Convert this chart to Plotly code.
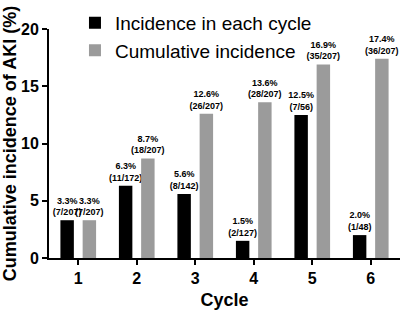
import plotly.graph_objects as go

cycles = ["1", "2", "3", "4", "5", "6"]
incidence = [3.3, 6.3, 5.6, 1.5, 12.5, 2.0]
incidence_counts = ["(7/207)", "(11/172)", "(8/142)", "(2/127)", "(7/56)", "(1/48)"]
cumulative = [3.3, 8.7, 12.6, 13.6, 16.9, 17.4]
cumulative_counts = ["(7/207)", "(18/207)", "(26/207)", "(28/207)", "(35/207)", "(36/207)"]
y_ticks = [0, 5, 10, 15, 20]

FONT = "Arial, Liberation Sans, sans-serif"

def labels(vals, counts):
    return [f"<b>{v:.1f}%<br>{c}</b>" for v, c in zip(vals, counts)]

x_num = [int(c) for c in cycles]

fig = go.Figure()
fig.add_trace(go.Bar(
    x=x_num, y=incidence, name="Incidence in each cycle",
    marker=dict(color="#000000", line=dict(width=0)),
    width=0.23, offset=-0.305,
    text=labels(incidence, incidence_counts), textposition="outside",
    textfont=dict(size=9, color="#000000", family=FONT),
    constraintext="none", cliponaxis=False,
))
fig.add_trace(go.Bar(
    x=x_num, y=cumulative, name="Cumulative incidence",
    marker=dict(color="#9b9b9b", line=dict(width=0)),
    width=0.23, offset=0.075,
    text=labels(cumulative, cumulative_counts), textposition="outside",
    textfont=dict(size=9, color="#000000", family=FONT),
    constraintext="none", cliponaxis=False,
))

fig.update_layout(
    width=401, height=312,
    margin=dict(l=49, r=1, t=29, b=54),
    paper_bgcolor="white", plot_bgcolor="white",
    font=dict(family=FONT, color="#000000"),
    barmode="overlay",
    showlegend=True,
    legend=dict(x=0.074, y=1.11, xanchor="left", yanchor="top",
                font=dict(size=19, family=FONT, color="#000000"),
                bgcolor="rgba(0,0,0,0)", tracegroupgap=0, itemwidth=30),
    xaxis=dict(
        range=[0.5, 6.5], tickmode="array", tickvals=x_num,
        ticktext=[f"<b>{c}</b>" for c in cycles],
        tickfont=dict(size=16, family=FONT, color="#000000"),
        showline=True, linecolor="#000000", linewidth=2,
        ticks="outside", ticklen=5, tickwidth=2, tickcolor="#000000",
        showgrid=False, zeroline=False,
        title=dict(text="<b>Cycle</b>", font=dict(size=18, family=FONT, color="#000000"), standoff=7),
    ),
    yaxis=dict(
        range=[0, 20], tickmode="array", tickvals=y_ticks,
        ticktext=[f"<b>{t}</b>" for t in y_ticks],
        tickfont=dict(size=16, family=FONT, color="#000000"),
        showline=True, linecolor="#000000", linewidth=2,
        ticks="outside", ticklen=5, tickwidth=2, tickcolor="#000000",
        showgrid=False, zeroline=False,
        title=dict(text="<b>Cumulative incidence of AKI (%)</b>", font=dict(size=18, family=FONT, color="#000000"), standoff=4),
    ),
)

fig.write_html("out.html", config={"displayModeBar": False},
               post_script="document.body.style.margin='0';document.body.style.padding='0';")
